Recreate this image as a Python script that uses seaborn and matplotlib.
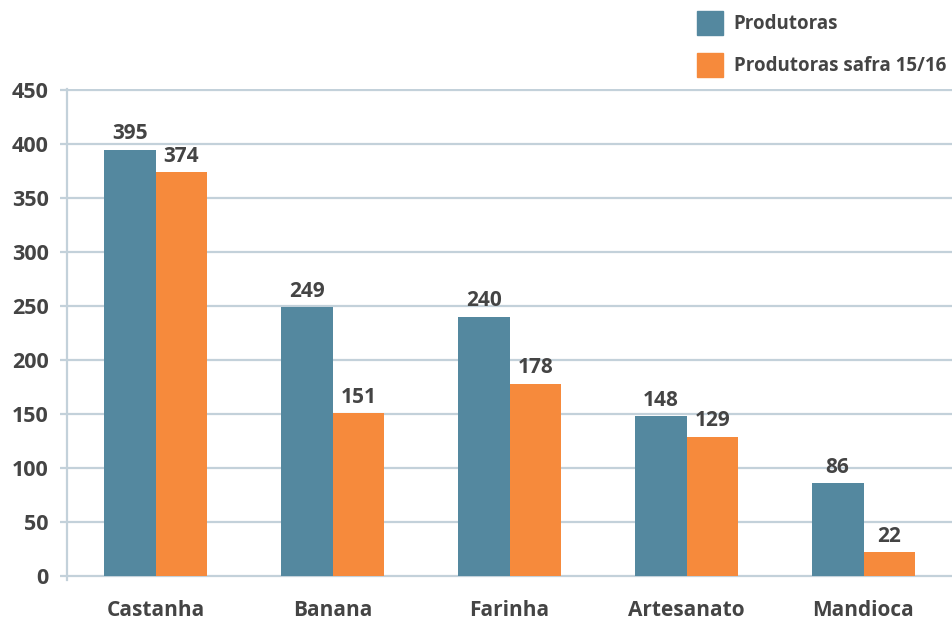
import matplotlib
matplotlib.use('Agg')
import matplotlib.pyplot as plt
import pandas as pd
import seaborn as sns

# Dados
categorias = ['Castanha', 'Banana', 'Farinha', 'Artesanato', 'Mandioca']
produtoras = [395, 249, 240, 148, 86]
produtoras_safra = [374, 151, 178, 129, 22]
series = ['Produtoras', 'Produtoras safra 15/16']
cores = ['#54889F', '#F68A3C']

df = pd.DataFrame({
    'categoria': categorias * 2,
    'valor': produtoras + produtoras_safra,
    'serie': [series[0]] * 5 + [series[1]] * 5,
})

sns.set_style('white')
plt.rcParams['font.family'] = ['Open Sans', 'DejaVu Sans']
texto = '#444444'
grade = '#C3D1DA'

fig = plt.figure(figsize=(9.52, 6.19), dpi=100)
ax = fig.add_axes([67 / 952, 1 - 580.3 / 619, 1 - 67 / 952, (580.3 - 89.4) / 619])

sns.barplot(data=df, x='categoria', y='valor', hue='serie', palette=cores,
            width=0.585, gap=0, saturation=1, linewidth=0, ax=ax, legend=False)

for cont in ax.containers:
    ax.bar_label(cont, padding=4, fontsize=15, fontweight='bold', color=texto)

ax.set_xlim(-0.5, 4.5)
ax.set_ylim(-4, 451)
ax.set_yticks(range(0, 451, 50))
ax.yaxis.grid(True, color=grade, linewidth=1.6)
ax.set_axisbelow(True)
for s in ['top', 'right', 'bottom']:
    ax.spines[s].set_visible(False)
ax.spines['left'].set_color(grade)
ax.spines['left'].set_linewidth(1.6)
ax.tick_params(axis='y', length=5, width=1.6, color=grade, pad=8,
               labelsize=15.5, labelcolor=texto, left=True)
ax.tick_params(axis='x', length=0, pad=14, labelsize=15, labelcolor=texto)
for lbl in ax.get_xticklabels() + ax.get_yticklabels():
    lbl.set_fontweight('bold')
ax.set_xlabel('')
ax.set_ylabel('')

handles = [plt.Rectangle((0, 0), 1, 1, color=c) for c in cores]
leg = fig.legend(handles, series, loc='upper left',
                 bbox_to_anchor=(697 / 952, 1 - 11 / 619), frameon=False,
                 fontsize=13.5, handlelength=1.4, handleheight=1.62,
                 handletextpad=0.55, labelspacing=0.95, borderpad=0,
                 borderaxespad=0)
for t in leg.get_texts():
    t.set_color(texto)
    t.set_fontweight('bold')

fig.savefig('out.png', dpi=100)
